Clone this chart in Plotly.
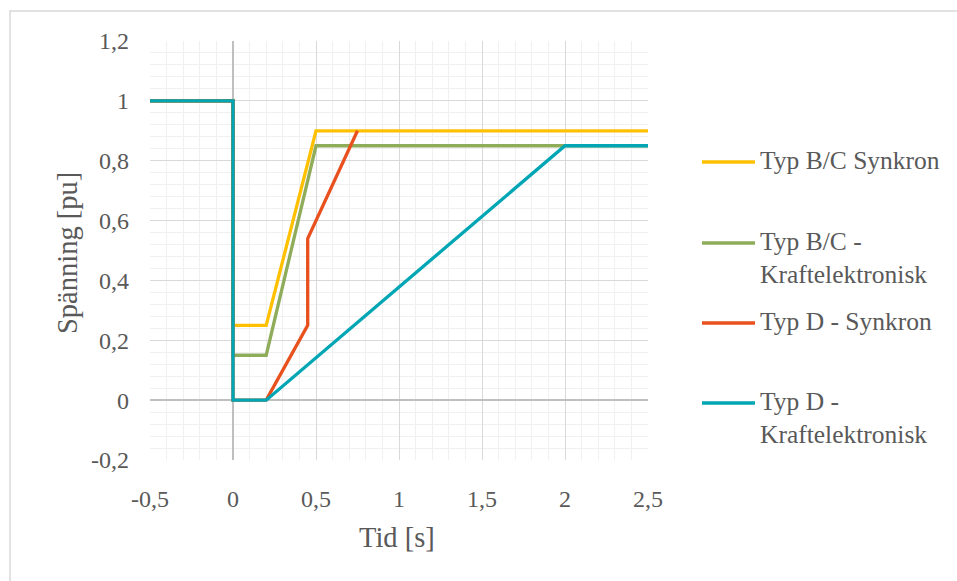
import plotly.graph_objects as go

# Time axis [s] and voltage [pu] for each fault-ride-through profile
names = [
    "Typ B/C Synkron",
    "Typ B/C -<br>Kraftelektronisk",
    "Typ D - Synkron",
    "Typ D -<br>Kraftelektronisk",
]
colors = ["#FFC000", "#8FAC5A", "#E8501E", "#00A6B4"]

bc_sync_t = [-0.5, 0, 0, 0.2, 0.5, 2.5]
bc_sync_u = [1, 1, 0.25, 0.25, 0.9, 0.9]

bc_pe_t = [-0.5, 0, 0, 0.2, 0.5, 2.5]
bc_pe_u = [1, 1, 0.15, 0.15, 0.85, 0.85]

d_sync_t = [-0.5, 0, 0, 0.2, 0.45, 0.45, 0.75]
d_sync_u = [1, 1, 0, 0, 0.25, 0.54, 0.9]

d_pe_t = [-0.5, 0, 0, 0.2, 2, 2.5]
d_pe_u = [1, 1, 0, 0, 0.85, 0.85]

x_ticks = [-0.5, 0, 0.5, 1, 1.5, 2, 2.5]
x_labels = ["-0,5", "0", "0,5", "1", "1,5", "2", "2,5"]
y_ticks = [-0.2, 0, 0.2, 0.4, 0.6, 0.8, 1, 1.2]
y_labels = ["-0,2", "0", "0,2", "0,4", "0,6", "0,8", "1", "1,2"]

series = [
    (bc_sync_t, bc_sync_u),
    (bc_pe_t, bc_pe_u),
    (d_sync_t, d_sync_u),
    (d_pe_t, d_pe_u),
]

FONT = "Liberation Serif"
GREY = "#595959"

# Plot-area geometry in pixels (used to place legend and titles in paper units)
W, H = 957, 581
ML, MR, MT, MB = 150, 309, 41, 121
PW, PH = W - ML - MR, H - MT - MB


def px_x(p):
    return (p - ML) / PW


def px_y(p):
    return (H - MB - p) / PH


fig = go.Figure()
for (t, u), name, col in zip(series, names, colors):
    fig.add_trace(go.Scatter(
        x=t, y=u, mode="lines", name=name.replace("<br>", " "),
        line=dict(color=col, width=3.3), showlegend=False,
    ))

fig.update_layout(
    width=W, height=H,
    margin=dict(l=ML, r=MR, t=MT, b=MB),
    paper_bgcolor="white", plot_bgcolor="white",
    font=dict(family=FONT, color=GREY, size=24),
    xaxis=dict(
        range=[-0.5, 2.5], tickvals=x_ticks, ticktext=x_labels,
        showgrid=True, gridcolor="#D9D9D9", gridwidth=1,
        minor=dict(dtick=0.1, tick0=-0.5, showgrid=True, gridcolor="#F0F0F0", gridwidth=1),
        zeroline=True, zerolinecolor="#BFBFBF", zerolinewidth=1.5,
        showline=False, ticks="", ticklen=0, ticklabelstandoff=22,
        tickfont=dict(family=FONT, size=24, color=GREY),
    ),
    yaxis=dict(
        range=[-0.2, 1.2], tickvals=y_ticks, ticktext=y_labels,
        showgrid=True, gridcolor="#D9D9D9", gridwidth=1,
        minor=dict(dtick=0.04, tick0=-0.2, showgrid=True, gridcolor="#F0F0F0", gridwidth=1),
        zeroline=True, zerolinecolor="#BFBFBF", zerolinewidth=1.5,
        showline=False, ticks="", ticklen=0, ticklabelstandoff=20,
        tickfont=dict(family=FONT, size=24, color=GREY),
    ),
)

# Axis titles
fig.add_annotation(
    text="Tid [s]", xref="paper", yref="paper",
    x=px_x(397), y=px_y(537), xanchor="center", yanchor="middle",
    showarrow=False, font=dict(family=FONT, size=28.5, color=GREY),
)
fig.add_annotation(
    text="Spänning [pu]", xref="paper", yref="paper",
    x=px_x(67), y=px_y(253), xanchor="center", yanchor="middle",
    textangle=-90, showarrow=False, font=dict(family=FONT, size=28.5, color=GREY),
)

# Legend: colour key line plus label for each series
legend_rows = [162, 243, 323, 403]
for name, col, row in zip(names, colors, legend_rows):
    fig.add_shape(
        type="line", xref="paper", yref="paper",
        x0=px_x(702), x1=px_x(755), y0=px_y(row), y1=px_y(row),
        line=dict(color=col, width=3.3),
    )
    fig.add_annotation(
        text=name, xref="paper", yref="paper",
        x=px_x(759), y=px_y(row - 17), xanchor="left", yanchor="top",
        align="left", showarrow=False, borderpad=0,
        font=dict(family=FONT, size=25.5, color=GREY),
    )

# Chart area frame
fig.add_shape(
    type="rect", xref="paper", yref="paper",
    x0=px_x(10), x1=px_x(975), y0=px_y(600), y1=px_y(11),
    line=dict(color="#D9D9D9", width=1.5), fillcolor="rgba(0,0,0,0)", layer="below",
)

fig.write_html("out.html")
